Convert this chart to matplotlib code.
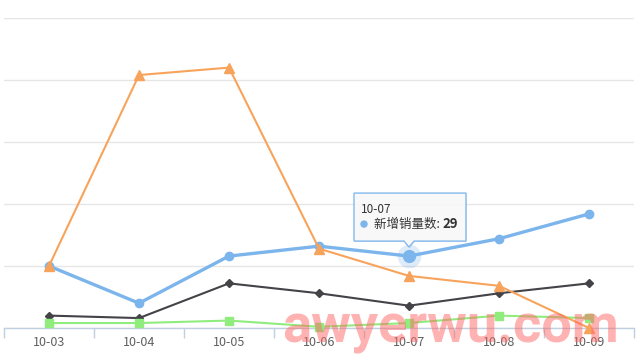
import matplotlib
matplotlib.use("Agg")
import matplotlib.pyplot as plt
from matplotlib.patches import Polygon, Circle
from matplotlib.transforms import Affine2D

plt.rcParams['font.family'] = ['Noto Sans CJK SC', 'DejaVu Sans']

# data
dates = ["10-03", "10-04", "10-05", "10-06", "10-07", "10-08", "10-09"]
new_sales = [25, 10, 29, 33, 29, 36, 46]      # blue, 新增销量数
series_b = [5, 4, 18, 14, 9, 14, 18]          # dark
series_c = [2, 2, 3, 0.5, 2, 5, 4]            # green
series_d = [25, 102, 105, 32, 21, 17, 0]      # orange
y_ticks = [0, 25, 50, 75, 100, 125]

x = list(range(len(dates)))

fig = plt.figure(figsize=(6.4, 3.6), dpi=100)
ax = fig.add_axes([4 / 640, 1 - 328 / 360, 630 / 640, 310 / 360])

ax.set_xlim(-0.5, len(dates) - 0.5)
ax.set_ylim(0, 125)
ax.set_yticks(y_ticks)
ax.yaxis.grid(True, color="#e6e6e6", linewidth=1)
ax.set_axisbelow(True)
ax.tick_params(axis="y", length=0, labelleft=False)
for s in ["top", "right", "left"]:
    ax.spines[s].set_visible(False)
ax.spines["bottom"].set_color("#c0d0e0")
ax.spines["bottom"].set_linewidth(1)

# category ticks between bands
ax.set_xticks([i - 0.5 for i in range(len(dates) + 1)])
ax.set_xticklabels([])
ax.set_xticks(x, minor=True)
ax.set_xticklabels(dates, minor=True, fontsize=9, color="#606060")
ax.tick_params(axis="x", which="major", length=7, color="#c0d0e0", width=1)
ax.tick_params(axis="x", which="minor", length=0, pad=6)

ax.plot(x, new_sales, color="#7cb5ec", lw=2.4, marker="o", ms=6, zorder=3,
        clip_on=False)
ax.plot(x, series_b, color="#434348", lw=1.5, marker="D", ms=4.5, zorder=4,
        clip_on=False)
ax.plot(x, series_c, color="#90ed7d", lw=1.5, marker="s", ms=6, zorder=5,
        clip_on=False)
ax.plot(x, series_d, color="#f7a35c", lw=1.5, marker="^", ms=6.5, zorder=6,
        clip_on=False)

# hovered point + tooltip
hi = 4
ax.plot([x[hi]], [new_sales[hi]], "o", color="#7cb5ec", ms=17, alpha=0.25,
        mec="none", zorder=3)
ax.plot([x[hi]], [new_sales[hi]], "o", color="#7cb5ec", ms=8.5, zorder=3.5)

fig.canvas.draw()
px, py = ax.transData.transform((x[hi], new_sales[hi]))
tt = Affine2D().translate(px, py)
box = [(-55, 15), (-5, 15), (0, 9), (5, 15), (57, 15), (57, 63), (-55, 63)]
fig.patches.append(Polygon([(a + 1, b - 1) for a, b in box], closed=True,
                           transform=tt, facecolor="#000000", alpha=0.08,
                           edgecolor="none", zorder=9))
fig.patches.append(Polygon(box, closed=True, transform=tt,
                           facecolor="#f9f9f9", edgecolor="#7cb5ec",
                           linewidth=1, zorder=10, alpha=0.95))
fig.text(-48, 47, dates[hi], transform=tt, fontsize=8.5, color="#333333",
         va="center", ha="left", zorder=11)
fig.patches.append(Circle((-45, 32), 3, transform=tt, color="#7cb5ec",
                          zorder=11))
t1 = fig.text(-35, 32, "新增销量数: ", transform=tt, fontsize=9,
              color="#333333", va="center", ha="left", zorder=11)
fig.canvas.draw()
bb = t1.get_window_extent()
fig.text(bb.x1 - px, 32, str(new_sales[hi]), transform=tt, fontsize=9.5,
         fontweight="bold", color="#333333", va="center", ha="left",
         zorder=11)

# watermark
fig.text(282 / 640, 1 - 343 / 360, "awyerwu.com", fontsize=39,
         fontweight="bold", color="#ff6666", alpha=0.5, ha="left",
         va="baseline", family=["Roboto", "DejaVu Sans"], zorder=20)

fig.savefig("out.png", dpi=100)
